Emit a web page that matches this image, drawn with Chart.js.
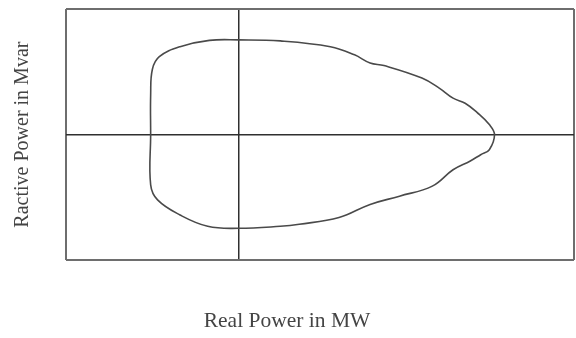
<!DOCTYPE html>
<html lang="en">
<head>
  <meta charset="UTF-8">
  <title>Capability Curve</title>
  <style>
    html, body { margin: 0; padding: 0; background: #fff; }
    #wrap { width: 576px; height: 338px; }
  </style>
  <script src="https://cdn.jsdelivr.net/npm/chart.js"></script>
</head>
<body>
  <div id="wrap"><canvas id="curve" width="576" height="338"></canvas></div>
  <script>
    // Capability curve outline (clockwise from left edge)
    const realPower = [
      -0.51, -0.51, -0.50, -0.46, -0.34, -0.17, 0.00, 0.24, 0.53, 0.67, 0.76, 0.84,
      1.06, 1.16, 1.24, 1.31, 1.38, 1.45, 1.48,
      1.45, 1.40, 1.34, 1.24, 1.12, 0.93, 0.76, 0.58, 0.35, 0.24, 0.00,
      -0.18, -0.34, -0.47, -0.51, -0.51
    ];
    const reactivePower = [
      0.00, 0.32, 0.52, 0.62, 0.70, 0.75, 0.754, 0.746, 0.70, 0.635, 0.57, 0.55,
      0.45, 0.37, 0.29, 0.25, 0.175, 0.08, 0.00,
      -0.12, -0.16, -0.21, -0.28, -0.41, -0.49, -0.556, -0.66, -0.714, -0.73, -0.746,
      -0.73, -0.64, -0.52, -0.40, 0.00
    ];

    const xRange = [-1, 1.94];
    const yRange = [-1, 1];

    const points = realPower.map((p, i) => ({ x: p, y: reactivePower[i] }));

    const frameGrid = {
      display: true,
      drawTicks: false,
      color: ctx => ctx.tick && ctx.tick.value === 0 ? '#2f2f2f' : '#6e6e6e',
      lineWidth: ctx => ctx.tick && ctx.tick.value === 0 ? 1.5 : 2
    };
    const threeTicks = scale => {
      scale.ticks = [{ value: scale.min }, { value: 0 }, { value: scale.max }];
    };
    const serif = '"Liberation Serif", "Times New Roman", serif';

    new Chart(document.getElementById('curve'), {
      type: 'scatter',
      data: {
        datasets: [{
          data: points,
          showLine: true,
          tension: 0.4,
          borderColor: '#4a4a4a',
          borderWidth: 1.6,
          pointRadius: 0,
          fill: false
        }]
      },
      options: {
        responsive: false,
        animation: false,
        layout: { padding: { top: 9, right: 2, left: 0, bottom: 0 } },
        plugins: {
          legend: { display: false },
          tooltip: { enabled: false },
          // x-axis caption sits centred on the whole picture, not on the plot box
          title: {
            display: true, position: 'bottom', text: 'Real Power in MW',
            color: '#444', font: { family: serif, size: 21.5, weight: 'normal' },
            padding: { top: 48, bottom: 4 }
          }
        },
        scales: {
          x: {
            type: 'linear',
            min: xRange[0], max: xRange[1],
            afterBuildTicks: threeTicks,
            ticks: { display: false },
            border: { display: false },
            grid: frameGrid
          },
          y: {
            type: 'linear',
            min: yRange[0], max: yRange[1],
            afterBuildTicks: threeTicks,
            ticks: { display: false },
            border: { display: false },
            grid: frameGrid,
            title: {
              display: true, text: 'Ractive Power in Mvar', color: '#444',
              font: { family: serif, size: 20 }, padding: { top: 11, bottom: 31 }
            }
          }
        }
      }
    });
  </script>
</body>
</html>
